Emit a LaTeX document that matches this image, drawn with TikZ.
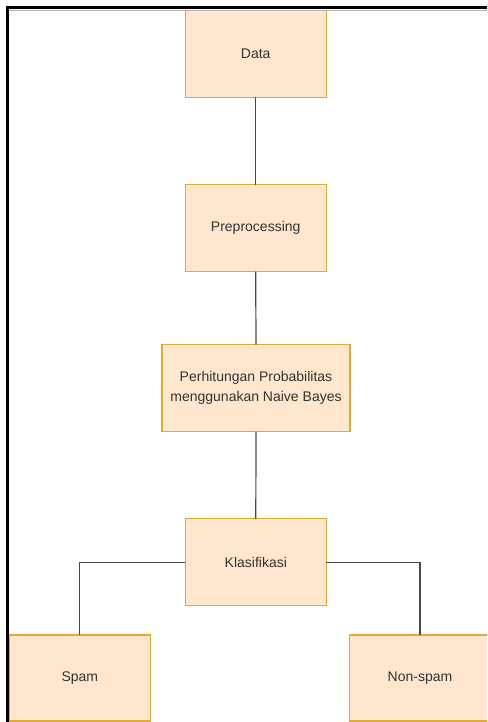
\documentclass[tikz,border=0pt]{standalone}
\usepackage{fontspec}
\setmainfont{Liberation Sans}
\definecolor{boxfill}{HTML}{FFE6CC}
\definecolor{boxline}{HTML}{DFAA38}
\definecolor{linegray}{HTML}{4A4A4A}
\definecolor{textgray}{HTML}{333333}
\begin{document}
\begin{tikzpicture}[x=1pt,y=-1pt,
  box/.style={draw=boxline, fill=boxfill, line width=1.2pt, minimum width=141pt, minimum height=87pt,
    inner sep=0pt, outer sep=0pt, font=\fontsize{14}{20}\selectfont, text=textgray, align=center},
  conn/.style={draw=linegray, line width=1.2pt}]
\clip (0,0) rectangle (487,722);
\fill[white] (0,0) rectangle (487,722);
\node[box] (data) at (255.7,54) {Data};
\node[box] (pre) at (255.7,228.2) {Preprocessing};
\node[box, minimum width=188pt] (per) at (256,388) {Perhitungan Probabilitas\\menggunakan Naive Bayes};
\node[box] (kla) at (255.8,562.3) {Klasifikasi};
\node[box, minimum height=86pt] (spam) at (79.8,678) {Spam};
\node[box, minimum height=86pt] (non) at (420,678) {Non-spam};
\draw[conn] (data.south) -- (pre.north);
\draw[conn] (pre.south) -- (per.north);
\draw[conn] (per.south) -- (kla.north);
\draw[conn] (kla.west) -| (spam.north);
\draw[conn] (kla.east) -| (non.north);
% outer frame
\draw[gray!60, line width=1pt] (9,10.5) -- (487,10.5);
\draw[black, line width=3pt] (7.5,722) -- (7.5,8) -- (487,8);
\end{tikzpicture}
\end{document}
